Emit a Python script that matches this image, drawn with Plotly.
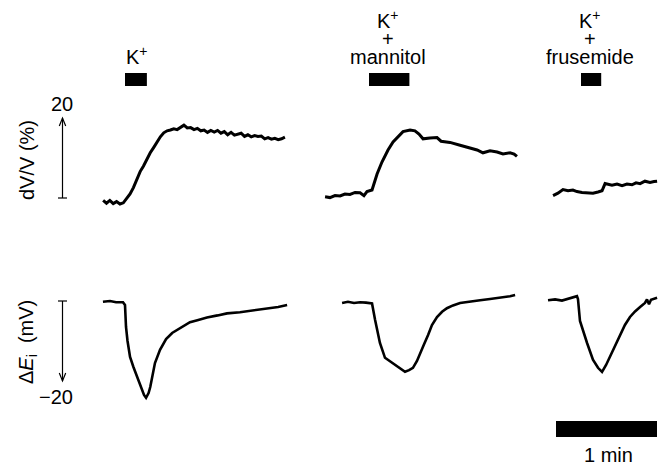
import plotly.graph_objects as go

W, H = 658, 465

# ---- recordings: time in s relative to the start of each application ----
# cell volume change dV/V (%)
k_t = [-13, -11, -9, -7, -5, -3, -1, 1, 3, 5, 7, 9, 11, 13, 15, 17, 19, 21, 23, 25,
       27, 29, 31, 33, 35, 37, 39, 41, 43, 45, 47, 49, 51, 53, 55, 57, 59, 61, 63, 65,
       67, 69, 71, 73, 75, 77, 79, 81, 83, 85, 87, 89, 91, 93, 95]
k_vol = [-0.6, -1.3, -0.6, -1.4, -0.9, -1.5, -1.2, -0.2, 1.0, 2.6, 4.8, 6.6, 8.0, 9.8,
         11.3, 12.6, 14.0, 15.3, 16.3, 16.8, 17.0, 17.3, 17.1, 17.6, 18.2, 17.5, 17.6,
         17.1, 17.4, 16.8, 17.0, 16.4, 16.9, 16.5, 16.9, 16.2, 16.6, 15.8, 16.4, 15.7,
         15.9, 16.2, 15.4, 15.8, 15.3, 15.6, 15.4, 15.5, 14.8, 15.1, 14.7, 14.9, 14.6,
         14.8, 15.2]

man_t = [-26.1, -23.2, -20.2, -17.2, -14.3, -11.3, -8.3, -5.3, -3.0, -1.2, 1.8, 4.8,
         7.7, 11.3, 14.3, 17.2, 20.2, 24.4, 27.3, 29.7, 32.1, 36.2, 40.4, 42.8, 48.1,
         54.1, 60.0, 64.2, 67.7, 71.9, 76.1, 79.6, 83.8, 86.2, 87.9]
man_vol = [0.3, 0.1, 0.6, 0.5, 1.0, 0.9, 1.4, 1.3, 0.6, 1.6, 2.0, 6.0, 9.0, 12.0, 14.0,
           15.3, 16.6, 17.0, 16.8, 16.0, 14.8, 15.0, 15.1, 14.2, 13.9, 13.2, 12.6, 12.0,
           11.3, 11.8, 11.5, 11.0, 11.3, 11.0, 10.4]

fru_t = [-16.6, -13.7, -10.7, -7.7, -4.8, -2.4, 0.6, 3.6, 7.1, 10.1, 12.5, 14.3, 16.0,
         18.4, 21.4, 24.4, 27.3, 30.3, 32.7, 35.1, 38.0, 41.0, 43.4, 45.2]
fru_vol = [0.6, 1.2, 2.1, 1.8, 2.0, 1.6, 1.4, 1.3, 1.2, 1.5, 1.8, 3.6, 3.4, 3.2, 3.5,
           3.1, 3.5, 3.3, 3.8, 3.6, 4.2, 3.9, 4.1, 4.2]

# intracellular potential change dEi (mV)
k_te = [-13.1, -8.9, -5.3, -1.8, -1.2, 0.0, 0.6, 1.5, 3.0, 5.0, 7.1, 9.5, 11.3, 12.5,
        14.0, 15.0, 16.0, 17.8, 20.8, 24.4, 28.0, 30.9, 35.0, 38.6, 43.0, 48.7, 55.0,
        60.6, 68.3, 75.0, 80.2, 86.2, 91.0, 96.3]
k_ei = [-0.2, 0.0, -0.3, -0.2, -0.3, -1.0, -6.5, -10.0, -14.0, -16.5, -19.0, -21.5,
        -23.5, -24.2, -23.0, -21.5, -19.0, -15.5, -12.2, -9.5, -8.0, -7.2, -6.2, -5.3,
        -4.8, -4.1, -3.6, -3.1, -2.8, -2.4, -2.2, -1.7, -1.5, -1.0]

man_te = [-16.0, -12.5, -8.9, -5.3, -1.8, 1.8, 3.6, 6.5, 9.5, 13.7, 18.4, 21.4, 23.8,
          26.1, 28.5, 30.3, 32.7, 35.1, 37.4, 40.4, 43.4, 46.3, 49.9, 54.1, 60.0, 66.0,
          71.9, 76.1, 80.8, 83.8, 86.8]
man_ei = [-0.5, -0.2, -0.5, -0.3, -0.4, -0.6, -4.7, -10.5, -14.2, -15.5, -17.0, -17.7,
          -17.3, -16.7, -15.0, -13.0, -10.8, -8.5, -6.0, -4.0, -2.7, -1.8, -1.1, -0.5,
          -0.1, 0.2, 0.5, 0.7, 0.9, 1.2, 1.5]

fru_te = [-19.6, -15.4, -11.3, -6.5, -2.4, -1.8, -0.6, 3.6, 7.1, 10.1, 12.5, 14.9, 17.2,
          20.2, 23.2, 26.1, 29.1, 32.1, 35.1, 38.0, 39.2, 40.4, 41.6, 43.4, 45.2]
fru_ei = [0.2, 0.4, 0.1, 0.8, 1.2, 0.5, -5.0, -10.5, -14.7, -16.7, -17.7, -16.0, -14.0,
          -11.0, -8.5, -6.0, -4.0, -2.6, -1.5, -0.5, 0.4, -0.8, 0.3, 0.5, 0.8]

# application durations (s) and labels
stim_dur = [13, 24, 12]
stim_labels = [["K<sup>+</sup>"],
               ["K<sup>+</sup>", "+", "mannitol"],
               ["K<sup>+</sup>", "+", "frusemide"]]
scale_vol = 20     # %
scale_ei = -20     # mV
scale_time = 60    # s

# ---- layout on a shared time axis ----
SEC_PX = 101 / 60.0                 # pixels per second
X_MAX = W / SEC_PX
onsets = [125 / SEC_PX, 369 / SEC_PX, 581 / SEC_PX]
VOL_ZERO_PX, EI_ZERO_PX, UNIT_PX = 198, 301, 4.0


def py(p):
    return 1 - p / H


def px(p):
    return p / W


fig = go.Figure()
vol_sets = [(k_t, k_vol), (man_t, man_vol), (fru_t, fru_vol)]
ei_sets = [(k_te, k_ei), (man_te, man_ei), (fru_te, fru_ei)]
for on, (t, v) in zip(onsets, vol_sets):
    fig.add_trace(go.Scatter(x=[on + ti for ti in t], y=v, mode="lines",
                             line=dict(color="black", width=3), yaxis="y",
                             showlegend=False, hoverinfo="skip"))
for on, (t, v) in zip(onsets, ei_sets):
    fig.add_trace(go.Scatter(x=[on + ti for ti in t], y=v, mode="lines",
                             line=dict(color="black", width=2.6), yaxis="y2",
                             showlegend=False, hoverinfo="skip"))

shapes = []
# application bars
for on, d in zip(onsets, stim_dur):
    shapes.append(dict(type="rect", xref="x", yref="paper", x0=on, x1=on + d,
                       y0=py(86), y1=py(73), fillcolor="black", line=dict(width=0)))
# time scale bar
tb_end = 657 / SEC_PX
shapes.append(dict(type="rect", xref="x", yref="paper", x0=tb_end - scale_time,
                   x1=tb_end, y0=py(437), y1=py(421), fillcolor="black",
                   line=dict(width=0)))

# vertical calibration arrows
ax_x = 62.5 / SEC_PX
hw = 3.2 / SEC_PX          # half-width of arrowhead
tw = 4.5 / SEC_PX          # half-width of end tick
hh = 8 / UNIT_PX           # arrowhead height in data units
thin = dict(color="black", width=1.2)
for yref, top in (("y", scale_vol), ("y2", scale_ei)):
    sgn = 1 if top > 0 else -1
    shapes.append(dict(type="line", xref="x", yref=yref, x0=ax_x, x1=ax_x,
                       y0=0, y1=top, line=thin))
    shapes.append(dict(type="line", xref="x", yref=yref, x0=ax_x - tw, x1=ax_x + tw,
                       y0=0, y1=0, line=thin))
    shapes.append(dict(type="path", xref="x", yref=yref, line=thin,
                       path=f"M {ax_x - hw},{top - sgn * hh} L {ax_x},{top} "
                            f"L {ax_x + hw},{top - sgn * hh}"))

FONT = dict(family="Liberation Sans, Arial, Helvetica, sans-serif", size=20,
            color="black")
ann = []


def text(s, x, y, angle=0, size=20, box_h=None):
    f = dict(FONT)
    f["size"] = size
    a = dict(text=s, x=px(x), y=py(y), xref="paper", yref="paper",
             showarrow=False, xanchor="center", yanchor="middle",
             textangle=angle, font=f)
    if box_h:
        a["height"] = box_h
    ann.append(a)


# treatment labels above each bar (tightly stacked lines)
col_centers = [137, 388, 590]
line_y = {1: [55], 3: [20, 38, 56]}
for cx, labels in zip(col_centers, stim_labels):
    stacked = len(labels) > 1
    for s, yy in zip(labels, line_y[len(labels)]):
        text(s, cx, yy, box_h=17 if stacked else None)

text(str(scale_vol), 62, 104)
text("\u2212" + str(abs(scale_ei)), 56, 397)
text("dV/V (%)", 27, 160, angle=-90)
text("\u0394<i>E</i><sub>i</sub>  (mV)", 27, 342, angle=-90)
text("1 min", 608, 455)

fig.update_layout(
    width=W, height=H,
    margin=dict(l=0, r=0, t=0, b=0),
    paper_bgcolor="white", plot_bgcolor="white",
    xaxis=dict(range=[0, X_MAX], visible=False, fixedrange=True),
    yaxis=dict(range=[(VOL_ZERO_PX - H) / UNIT_PX, VOL_ZERO_PX / UNIT_PX],
               visible=False, fixedrange=True),
    yaxis2=dict(range=[-(H - EI_ZERO_PX) / UNIT_PX, EI_ZERO_PX / UNIT_PX],
                visible=False, overlaying="y", fixedrange=True),
    shapes=shapes, annotations=ann,
)

fig.write_html("out.html")
